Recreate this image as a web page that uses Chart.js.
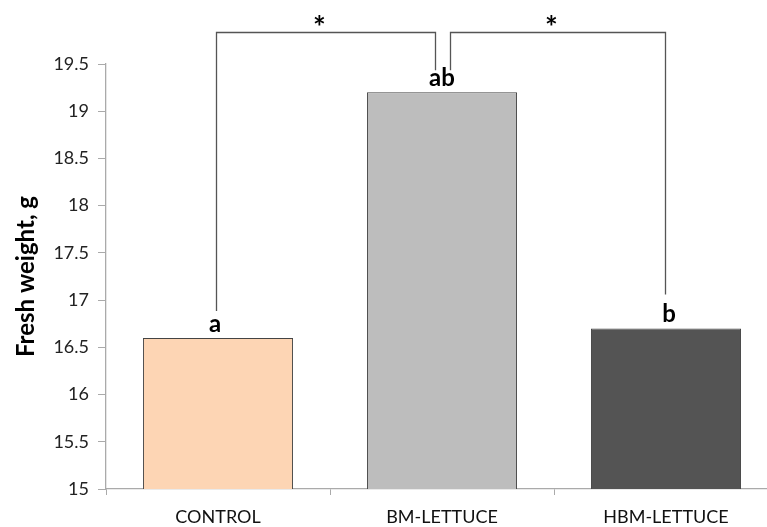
<!DOCTYPE html>
<html>
<head>
<meta charset="utf-8">
<script src="https://cdn.jsdelivr.net/npm/chart.js@4"></script>
<style>
  html, body { margin: 0; padding: 0; background: #fff; overflow: hidden; }
</style>
</head>
<body>
<canvas id="bars" width="790" height="527"></canvas>
<script>
const categories = ['CONTROL', 'BM-LETTUCE', 'HBM-LETTUCE'];
const freshWeight = [16.6, 19.2, 16.7];
const letters = ['a', 'ab', 'b'];
const barColors = ['#fdd5b4', '#bdbdbd', '#545454'];
const yTicks = [15, 15.5, 16, 16.5, 17, 17.5, 18, 18.5, 19, 19.5];
// significance brackets: [from, to, top value]
const brackets = [[0, 1, 19.84], [1, 2, 19.84]];

const font = 'Lato';

// brackets, stars and letters above the bars
const annotate = {
  id: 'annotate',
  afterDraw(chart) {
    const c = chart.ctx;
    const x = chart.scales.x;
    const y = chart.scales.y;
    c.save();
    c.fillStyle = '#000';
    c.textAlign = 'center';
    c.textBaseline = 'middle';
    c.font = 'bold 24px ' + font;
    freshWeight.forEach((v, i) => {
      c.fillText(letters[i], x.getPixelForValue(i) + (i - 1) * 3, y.getPixelForValue(v) - 14);
    });

    c.strokeStyle = '#555';
    c.lineWidth = 1.3;
    brackets.forEach(([a, b, top], k) => {
      const xa = x.getPixelForValue(a) + (k === 1 ? 8 : -2);
      const xb = x.getPixelForValue(b) + (k === 0 ? -7 : -1);
      const yt = y.getPixelForValue(top);
      const ya = y.getPixelForValue(freshWeight[a]) - 27 - (k === 1 ? -5 : 0);
      const yb = y.getPixelForValue(freshWeight[b]) - 34 + (k === 0 ? 12 : 0);
      c.beginPath();
      c.moveTo(Math.round(xa) + 0.5, ya);
      c.lineTo(Math.round(xa) + 0.5, Math.round(yt) + 0.5);
      c.lineTo(Math.round(xb) + 0.5, Math.round(yt) + 0.5);
      c.lineTo(Math.round(xb) + 0.5, yb);
      c.stroke();
      c.font = 'bold 30px ' + font;
      c.fillText('*', (xa + xb) / 2 - 6, yt - 4);
    });
    c.restore();
  }
};

new Chart(document.getElementById('bars'), {
  type: 'bar',
  data: {
    labels: categories,
    datasets: [{
      data: freshWeight,
      backgroundColor: barColors,
      borderColor: '#444',
      borderWidth: 1,
      barPercentage: 1,
      categoryPercentage: 0.67
    }]
  },
  options: {
    responsive: false,
    animation: false,
    layout: { padding: { top: 64, right: 12, left: 0, bottom: 0 } },
    plugins: { legend: { display: false }, tooltip: { enabled: false } },
    scales: {
      x: {
        afterFit(s) { s.height = 38; },
        grid: { offset: true, drawOnChartArea: false, tickLength: 6, color: '#aaa' },
        border: { color: '#aaa', width: 1.3 },
        ticks: { color: '#111', padding: 11, font: { family: font, size: 18 } }
      },
      y: {
        min: 15,
        max: 19.5,
        afterFit(s) { s.width = 106; },
        afterBuildTicks(s) { s.ticks = yTicks.map(v => ({ value: v })); },
        grid: { drawOnChartArea: false, tickLength: 8, color: '#aaa' },
        border: { color: '#aaa', width: 1.3 },
        ticks: {
          color: '#222',
          padding: 9,
          font: { family: font, size: 18 },
          callback: v => String(v)
        },
        title: {
          display: true,
          text: 'Fresh weight, g',
          color: '#000',
          padding: { top: 12, bottom: 0 },
          font: { family: font, size: 24, weight: 'bold' }
        }
      }
    }
  },
  plugins: [annotate]
});
</script>
</body>
</html>
